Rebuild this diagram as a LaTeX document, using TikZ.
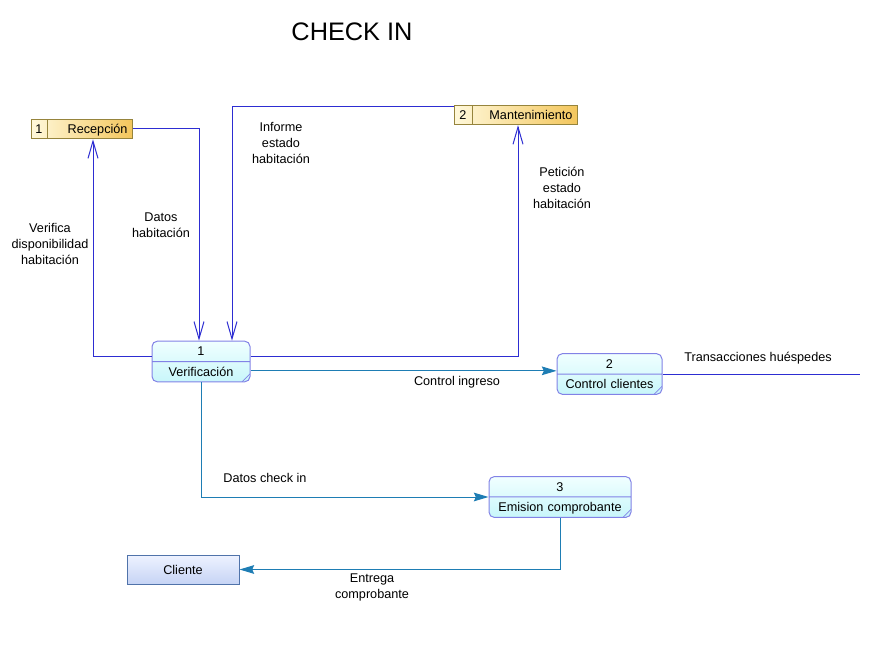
\documentclass[tikz,border=0pt]{standalone}
\usepackage{fontspec}
\setmainfont{Liberation Sans}
\usetikzlibrary{arrows.meta,shapes.multipart}

\definecolor{storeline}{RGB}{150,132,60}
\definecolor{storelight}{RGB}{255,248,218}
\definecolor{storedark}{RGB}{243,198,92}
\definecolor{procline}{RGB}{130,130,230}
\definecolor{proclight}{RGB}{240,255,255}
\definecolor{procdark}{RGB}{200,246,250}
\definecolor{extline}{RGB}{80,115,170}
\definecolor{extlight}{RGB}{238,242,255}
\definecolor{extdark}{RGB}{198,212,245}
\definecolor{flowblue}{RGB}{45,45,210}
\definecolor{flowteal}{RGB}{30,125,180}

\newcommand{\dfdstrut}{\rule[-1.8pt]{0pt}{10.5pt}}

\tikzset{
  store/.style={draw=storeline, line width=0.75pt, left color=storelight, right color=storedark,
    rectangle split, rectangle split horizontal, rectangle split parts=2,
    inner xsep=0pt, inner ysep=2pt},
  proc/.style={draw=procline, line width=0.75pt, rounded corners=4pt,
    top color=proclight, bottom color=procdark,
    rectangle split, rectangle split parts=2, inner xsep=0pt, inner ysep=2pt, align=center,
    path picture={\draw[procline, line width=0.5pt]
      ([xshift=-6pt]path picture bounding box.south east) --
      ([yshift=6pt]path picture bounding box.south east);}},
  extent/.style={draw=extline, line width=0.75pt, top color=extlight, bottom color=extdark,
    minimum width=84pt, minimum height=21.75pt},
  flowstore/.style={draw=flowblue, line width=0.75pt, -{Straight Barb[length=13pt,width=7.5pt]}},
  flow/.style={draw=flowteal, line width=0.75pt, -{Stealth[length=11pt,width=6.5pt,inset=1.5pt]}},
  lbl/.style={align=center, font=\fontsize{9.5}{12}\selectfont}
}

\begin{document}
\begin{tikzpicture}[x=0.75pt, y=-0.75pt, font=\fontsize{9.5}{12}\selectfont]

    \useasboundingbox (0,0) rectangle (870,648);

    \node [font=\fontsize{19}{22}\selectfont] (title) at (352,32) {CHECK IN};

    % almacenes
    \node [store] (recep) at (82,129)
      {\makebox[11.25pt]{\dfdstrut 1}\nodepart{two}\makebox[63.75pt][r]{\dfdstrut Recepción\hspace{3.75pt}}};
    \node [store] (mant) at (516,115)
      {\makebox[12.75pt]{\dfdstrut 2}\nodepart{two}\makebox[78.75pt][r]{\dfdstrut Mantenimiento\hspace{3.75pt}}};

    % procesos
    \node [proc, text width=73.5pt] (verif) at (201,361.5)
      {\dfdstrut 1\nodepart{two}\dfdstrut Verificación};
    \node [proc, text width=78.75pt] (ctrl) at (609.5,374)
      {\dfdstrut 2\nodepart{two}\dfdstrut Control clientes};
    \node [proc, text width=106.5pt] (emis) at (560,497)
      {\dfdstrut 3\nodepart{two}\dfdstrut Emision comprobante};

    % entidad externa
    \node [extent] (cliente) at (183,569.5) {Cliente};

    \coordinate (salida) at (860,374);

    % flujos
    \draw [flowstore] (recep.east) -| ([xshift=-1.5pt]verif.north);
    \draw [flowstore] ([yshift=3.5pt]verif.west) -| ([xshift=8.25pt]recep.south);
    \draw [flowstore] ([yshift=6pt]mant.west) -| ([xshift=23.25pt]verif.north);
    \draw [flowstore] ([yshift=4pt]verif.east) -| ([xshift=1.5pt]mant.south);
    \draw [flow] ([yshift=-7pt]verif.east) -- ([yshift=-7pt]verif.east -| ctrl.west);
    \draw [draw=flowblue, line width=0.75pt] (ctrl.east) -- (salida);
    \draw [flow] (verif.south) |- (emis.west);
    \draw [flow] (emis.south) |- (cliente.east);

    % etiquetas
    \node [lbl] (l1) at (161,225) {Datos\\habitación};
    \node [lbl] (l2) at (50,244) {Verifica\\disponibilidad\\habitación};
    \node [lbl] (l3) at (281,143) {Informe\\estado\\habitación};
    \node [lbl] (l4) at (562,188) {Petición\\estado\\habitación};
    \node [lbl] (l5) at (457,382) {Control ingreso};
    \node [lbl] (l6) at (758,358) {Transacciones huéspedes};
    \node [lbl] (l7) at (265,478) {Datos check in};
    \node [lbl] (l8) at (372,587) {Entrega\\comprobante};
\end{tikzpicture}
\end{document}
